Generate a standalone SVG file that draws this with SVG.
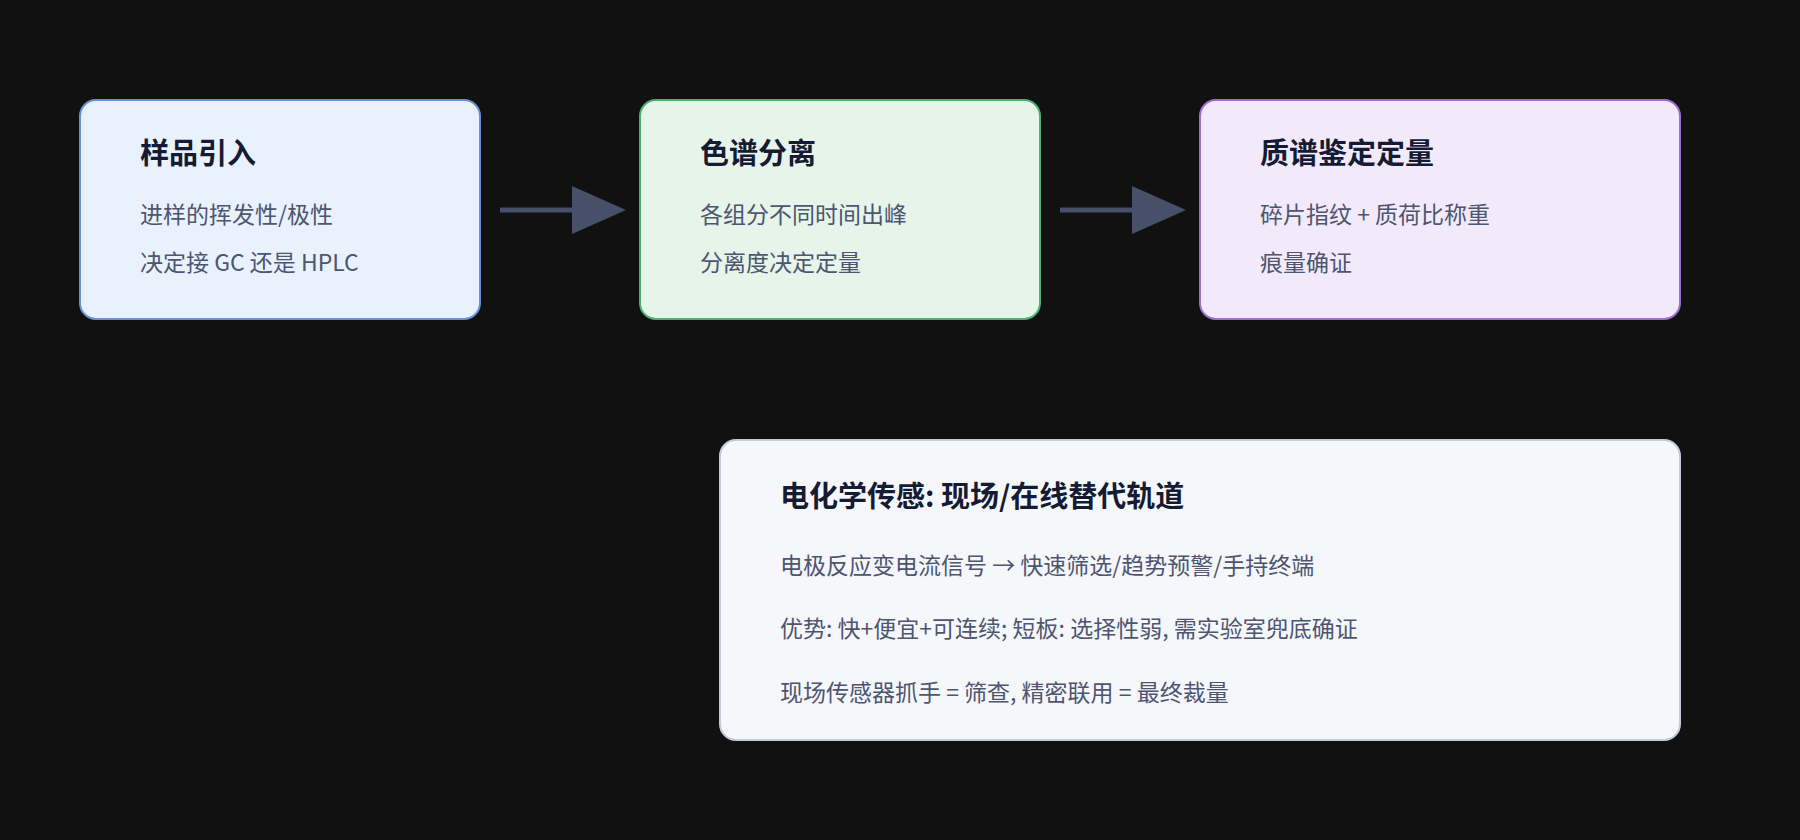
<svg xmlns="http://www.w3.org/2000/svg" width="1800" height="840" viewBox="0 0 1800 840">
<defs>
<style>
.t{font-family:"Noto Sans CJK SC","Noto Sans",sans-serif;font-weight:700;font-size:29px;fill:#151b33}
.b{font-family:"Noto Sans CJK SC","Noto Sans",sans-serif;font-size:23px;fill:#4d5570}
.c{stroke:#475069;stroke-width:5;fill:none}
</style>
<marker id="ah" markerWidth="10" markerHeight="10" refX="9" refY="5" orient="auto" markerUnits="userSpaceOnUse" viewBox="0 0 10 10"><path d="M0,0L10,5L0,10z" fill="#475069"/></marker>
</defs>
<rect width="1800" height="840" fill="#111111"/>
<g id="connectors">
<line class="c" x1="500" y1="210" x2="575" y2="210"/>
<path d="M572,186L626,210L572,234z" fill="#475069"/>
<line class="c" x1="1060" y1="210" x2="1135" y2="210"/>
<path d="M1132,186L1186,210L1132,234z" fill="#475069"/>
</g>
<g id="n1">
<rect x="80" y="100" width="400" height="219" rx="16" fill="#e8f1fc" stroke="#6b8fd6" stroke-width="2"/>
<text class="t" x="140" y="164">样品引入</text>
<text class="b" x="140" y="223">进样的挥发性/极性</text>
<text class="b" x="140" y="271">决定接 GC 还是 HPLC</text>
</g>
<g id="n2">
<rect x="640" y="100" width="400" height="219" rx="16" fill="#e6f4ea" stroke="#4caf74" stroke-width="2"/>
<text class="t" x="700" y="164">色谱分离</text>
<text class="b" x="700" y="223">各组分不同时间出峰</text>
<text class="b" x="700" y="271">分离度决定定量</text>
</g>
<g id="n3">
<rect x="1200" y="100" width="480" height="219" rx="16" fill="#f2eafa" stroke="#9b6fcf" stroke-width="2"/>
<text class="t" x="1260" y="164">质谱鉴定定量</text>
<text class="b" x="1260" y="223">碎片指纹 + 质荷比称重</text>
<text class="b" x="1260" y="271">痕量确证</text>
</g>
<g id="n4">
<rect x="720" y="440" width="960" height="300" rx="16" fill="#f5f7fb" stroke="#c5cad6" stroke-width="2"/>
<text class="t" x="780" y="507">电化学传感: 现场/在线替代轨道</text>
<text class="b" x="780" y="574">电极反应变电流信号 → 快速筛选/趋势预警/手持终端</text>
<text class="b" x="780" y="637">优势: 快+便宜+可连续; 短板: 选择性弱, 需实验室兜底确证</text>
<text class="b" x="780" y="701">现场传感器抓手 = 筛查, 精密联用 = 最终裁量</text>
</g>
</svg>
